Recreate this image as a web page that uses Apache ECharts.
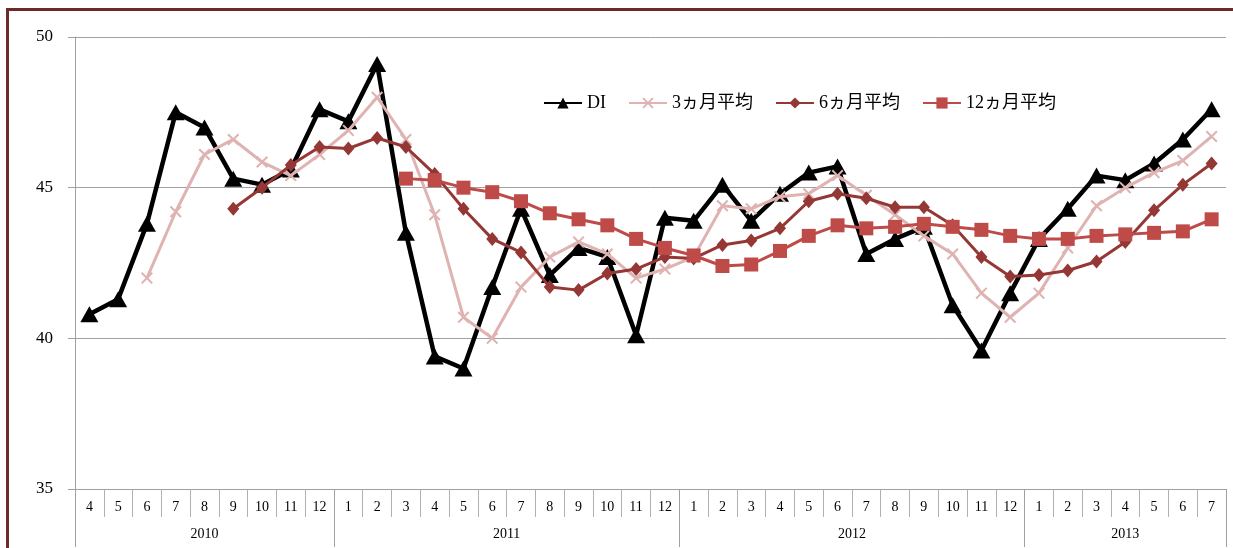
<!DOCTYPE html>
<html>
<head>
<meta charset="utf-8">
<script src="https://cdn.jsdelivr.net/npm/echarts@6/dist/echarts.min.js"></script>
<style>
html,body{margin:0;padding:0;background:#fff;}
#c{width:1233px;height:548px;}
</style>
</head>
<body>
<div id="c"></div>
<script>
var months = ['4','5','6','7','8','9','10','11','12',
  '1','2','3','4','5','6','7','8','9','10','11','12',
  '1','2','3','4','5','6','7','8','9','10','11','12',
  '1','2','3','4','5','6','7'];
var years = ['2010','2011','2012','2013'];
var yearStartIdx = [0, 9, 21, 33, 40];
var yearLabelPos = [4.5, 15, 27, 36.5];
var yTicks = [35, 40, 45, 50];

var di = [40.8,41.3,43.8,47.5,47.0,45.3,45.1,45.6,47.6,
  47.2,49.1,43.5,39.4,39.0,41.7,44.3,42.1,43.0,42.7,40.1,44.0,
  43.9,45.1,43.9,44.8,45.5,45.7,42.8,43.3,43.7,41.1,39.6,41.5,
  43.3,44.3,45.4,45.25,45.8,46.6,47.6];
var avg3 = [null,null,42.0,44.2,46.1,46.6,45.85,45.4,46.1,
  46.9,48.0,46.6,44.1,40.7,40.0,41.7,42.7,43.2,42.8,42.0,42.3,
  42.7,44.4,44.3,44.7,44.8,45.4,44.75,44.1,43.4,42.8,41.5,40.7,
  41.5,43.0,44.4,45.0,45.5,45.9,46.7];
var avg6 = [null,null,null,null,null,44.3,45.0,45.75,46.35,
  46.3,46.65,46.35,45.45,44.3,43.3,42.85,41.7,41.6,42.15,42.3,42.7,
  42.65,43.1,43.25,43.65,44.55,44.8,44.65,44.35,44.35,43.75,42.7,42.05,
  42.1,42.25,42.55,43.2,44.25,45.1,45.8];
var avg12 = [null,null,null,null,null,null,null,null,null,
  null,null,45.3,45.25,45.0,44.85,44.55,44.15,43.95,43.75,43.3,43.0,
  42.75,42.4,42.45,42.9,43.4,43.75,43.65,43.7,43.8,43.7,43.6,43.4,
  43.3,43.3,43.4,43.45,43.5,43.55,43.95];

var names = ['DI','3ヵ月平均','6ヵ月平均','12ヵ月平均'];
var FONT = '"Liberation Serif","DejaVu Serif","Noto Sans CJK JP",serif';
var xPath = 'path://M0,1.2 L1.2,0 L5,3.8 L8.8,0 L10,1.2 L6.2,5 L10,8.8 L8.8,10 L5,6.2 L1.2,10 L0,8.8 L3.8,5 Z';

var chart = echarts.init(document.getElementById('c'), null, {renderer:'canvas'});
chart.setOption({
  animation: false,
  backgroundColor: '#ffffff',
  textStyle: {fontFamily: FONT},
  graphic: [{
    type: 'rect', left: 5, top: 7, z: 100,
    shape: {width: 1300, height: 600},
    style: {fill: 'none', stroke: '#6e2a28', lineWidth: 3}
  }],
  grid: {left: 75, right: 7, top: 37, bottom: 59, containLabel: false},
  legend: {
    data: names,
    left: 538, top: 89,
    itemWidth: 38, itemHeight: 14, itemGap: 22,
    textStyle: {fontFamily: FONT, fontSize: 18, color: '#000'}
  },
  xAxis: [{
    type: 'category', data: months, position: 'bottom', boundaryGap: true,
    axisLine: {show: true, lineStyle: {color: '#a0a0a0', width: 1}},
    axisTick: {show: true, interval: 0, length: 28, lineStyle: {color: '#b0b0b0'}},
    axisLabel: {interval: 0, margin: 11, fontSize: 14, color: '#000', fontFamily: FONT},
    splitLine: {show: false}
  }, {
    type: 'category', data: months, position: 'bottom', boundaryGap: true,
    axisLine: {show: false},
    axisTick: {show: true, length: 58, lineStyle: {color: '#a0a0a0'},
      interval: function (idx) { return yearStartIdx.indexOf(idx) >= 0; }},
    axisLabel: {show: false},
    splitLine: {show: false}
  }, {
    type: 'value', min: 0, max: 40, interval: 0.5, position: 'bottom',
    axisLine: {show: false}, axisTick: {show: false}, splitLine: {show: false},
    axisLabel: {
      show: true, margin: 38, fontSize: 14, color: '#000', fontFamily: FONT,
      showMinLabel: true, showMaxLabel: true,
      formatter: function (v) {
        for (var i = 0; i < yearLabelPos.length; i++) {
          if (Math.abs(v - yearLabelPos[i]) < 1e-6) return years[i];
        }
        return '';
      }
    }
  }],
  yAxis: {
    type: 'value', min: yTicks[0], max: yTicks[yTicks.length - 1], interval: 5,
    axisLine: {show: true, lineStyle: {color: '#a0a0a0'}},
    axisTick: {show: true, length: 7, lineStyle: {color: '#a0a0a0'}},
    axisLabel: {margin: 22, fontSize: 17, color: '#000', fontFamily: FONT},
    splitLine: {show: true, lineStyle: {color: '#a0a0a0', width: 1}}
  },
  series: [{
    name: names[0], type: 'line', data: di, xAxisIndex: 0,
    symbol: 'triangle', symbolSize: [18, 16],
    lineStyle: {color: '#000', width: 4.5},
    itemStyle: {color: '#000'}, z: 2
  }, {
    name: names[1], type: 'line', data: avg3, xAxisIndex: 0,
    symbol: xPath, symbolSize: 12,
    lineStyle: {color: '#dfb3b1', width: 3},
    itemStyle: {color: '#dfb3b1'}, z: 3
  }, {
    name: names[2], type: 'line', data: avg6, xAxisIndex: 0,
    symbol: 'diamond', symbolSize: [12, 14],
    lineStyle: {color: '#953735', width: 3},
    itemStyle: {color: '#953735'}, z: 4
  }, {
    name: names[3], type: 'line', data: avg12, xAxisIndex: 0,
    symbol: 'rect', symbolSize: 14,
    lineStyle: {color: '#be4b48', width: 3},
    itemStyle: {color: '#be4b48'}, z: 5
  }]
});
</script>
</body>
</html>
